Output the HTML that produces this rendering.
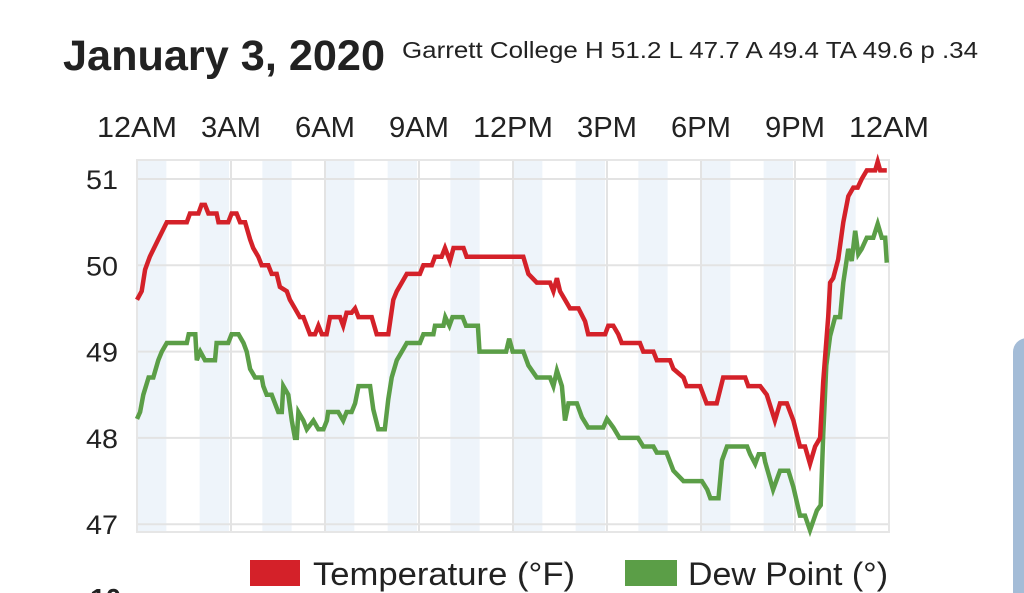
<!DOCTYPE html>
<html><head><meta charset="utf-8">
<style>
html,body{margin:0;padding:0;background:#fff;width:1024px;height:593px;overflow:hidden;}
svg{display:block;font-family:"Liberation Sans",sans-serif;overflow:hidden;}
</style></head>
<body>
<svg id="chart" width="1024" height="593" viewBox="0 0 1024 593">
  <defs><clipPath id="frameClip"><rect x="0" y="0" width="1024" height="593"/></clipPath></defs>
  <g clip-path="url(#frameClip)">
  <text x="63" y="70" font-size="43" font-weight="bold" fill="#222" textLength="322" lengthAdjust="spacingAndGlyphs">January 3, 2020</text>
  <text x="402" y="58" font-size="23" fill="#222" textLength="576" lengthAdjust="spacingAndGlyphs">Garrett College H 51.2 L 47.7 A 49.4  TA 49.6  p .34</text>
  <g id="bands"></g>
  <g id="grid"></g>
  <rect x="137" y="160" width="752" height="372" fill="none" stroke="#e6e6e6" stroke-width="2"/>
  <g id="xlabels"></g>
  <g id="ylabels"></g>
  <g id="series"></g>
  <g>
    <g>
      <rect x="250" y="560" width="50" height="26" fill="#d42129"/>
      <text x="313" y="585" font-size="32" fill="#222" textLength="262" lengthAdjust="spacingAndGlyphs">Temperature (°F)</text>
    </g>
    <g>
      <rect x="625" y="560" width="52" height="26" fill="#5b9e47"/>
      <text x="688" y="585" font-size="32" fill="#222" textLength="200" lengthAdjust="spacingAndGlyphs">Dew Point (°)</text>
    </g>
  </g>
  <text x="90" y="608" font-size="28" font-weight="bold" fill="#222">10</text>
  <rect x="1013" y="338" width="40" height="280" rx="14" fill="#a4bcd7"/>
  </g>
</svg>
<script>
const xTickLabels = ["12AM","3AM","6AM","9AM","12PM","3PM","6PM","9PM","12AM"];
const xTickHours = [0,3,6,9,12,15,18,21,24];
const yTicks = [47,48,49,50,51];
const tempHours = [0,0.15,0.26,0.41,0.68,0.95,1.59,1.69,1.96,2.06,2.17,2.28,2.54,2.6,2.91,3.02,3.18,3.29,3.45,3.61,3.71,3.87,3.98,4.19,4.3,4.46,4.56,4.78,4.88,5.04,5.2,5.31,5.52,5.68,5.79,5.9,6.05,6.16,6.48,6.58,6.69,6.85,6.96,7.07,7.49,7.65,8.02,8.18,8.29,8.45,8.61,9.03,9.14,9.41,9.51,9.72,9.83,9.99,10.1,10.42,10.52,12.33,12.49,12.76,13.18,13.29,13.4,13.5,13.66,13.82,14.09,14.3,14.4,14.94,15.04,15.2,15.36,15.47,16.05,16.16,16.48,16.59,17.01,17.12,17.44,17.54,17.97,18.18,18.5,18.71,19.41,19.51,19.89,20.1,20.36,20.52,20.74,20.95,21.16,21.32,21.48,21.64,21.8,21.9,22.06,22.12,22.22,22.38,22.54,22.7,22.86,23.0,23.13,23.29,23.56,23.64,23.72,23.93];
const tempValues = [49.6,49.7,49.95,50.1,50.3,50.5,50.5,50.6,50.6,50.7,50.7,50.6,50.6,50.5,50.5,50.6,50.6,50.5,50.5,50.3,50.2,50.1,50.0,50.0,49.9,49.9,49.75,49.7,49.6,49.5,49.4,49.4,49.2,49.2,49.3,49.2,49.2,49.4,49.4,49.3,49.45,49.45,49.5,49.4,49.4,49.2,49.2,49.6,49.7,49.8,49.9,49.9,50.0,50.0,50.1,50.1,50.2,50.05,50.2,50.2,50.1,50.1,49.9,49.8,49.8,49.7,49.85,49.7,49.6,49.5,49.5,49.35,49.2,49.2,49.3,49.3,49.2,49.1,49.1,49.0,49.0,48.9,48.9,48.8,48.7,48.6,48.6,48.4,48.4,48.7,48.7,48.6,48.6,48.5,48.2,48.4,48.4,48.2,47.9,47.9,47.7,47.9,48.0,48.65,49.4,49.8,49.85,50.07,50.5,50.8,50.9,50.9,51.0,51.1,51.1,51.2,51.1,51.1];
const dewHours = [0,0.1,0.2,0.37,0.52,0.68,0.79,0.95,1.59,1.65,1.86,1.91,2.02,2.17,2.49,2.54,2.91,3.02,3.24,3.4,3.5,3.61,3.77,3.98,4.03,4.14,4.3,4.51,4.62,4.67,4.83,4.94,5.04,5.1,5.15,5.31,5.42,5.63,5.79,5.95,6.06,6.1,6.42,6.58,6.69,6.85,6.96,7.07,7.44,7.54,7.7,7.91,8.02,8.13,8.29,8.45,8.61,9.03,9.14,9.46,9.51,9.78,9.84,9.97,10.07,10.39,10.5,10.88,10.93,11.78,11.88,11.99,12.33,12.49,12.76,13.18,13.29,13.4,13.56,13.66,13.77,14.04,14.2,14.4,14.88,15.0,15.2,15.4,15.99,16.16,16.48,16.59,16.9,17.12,17.44,18.03,18.2,18.3,18.56,18.67,18.83,19.47,19.57,19.73,19.84,20.0,20.05,20.3,20.52,20.79,20.95,21.16,21.32,21.48,21.7,21.82,21.9,22.0,22.12,22.28,22.44,22.54,22.7,22.81,22.92,23.02,23.13,23.29,23.5,23.64,23.77,23.88,23.93];
const dewValues = [48.22,48.3,48.5,48.7,48.7,48.9,49.0,49.1,49.1,49.2,49.2,48.9,49.0,48.9,48.9,49.1,49.1,49.2,49.2,49.1,49.0,48.8,48.7,48.7,48.6,48.5,48.5,48.3,48.3,48.6,48.5,48.2,48.0,48.0,48.3,48.2,48.1,48.2,48.1,48.1,48.2,48.3,48.3,48.2,48.3,48.3,48.4,48.6,48.6,48.33,48.1,48.1,48.45,48.7,48.9,49.0,49.1,49.1,49.2,49.2,49.3,49.3,49.4,49.3,49.4,49.4,49.3,49.3,49.0,49.0,49.15,49.0,49.0,48.84,48.7,48.7,48.6,48.78,48.6,48.2,48.4,48.4,48.24,48.12,48.12,48.22,48.12,48.0,48.0,47.9,47.9,47.83,47.83,47.62,47.5,47.5,47.4,47.3,47.3,47.74,47.9,47.9,47.81,47.7,47.81,47.81,47.72,47.4,47.62,47.62,47.43,47.1,47.1,46.93,47.16,47.22,48.03,48.84,49.18,49.4,49.4,49.8,50.19,50.05,50.4,50.13,50.19,50.32,50.32,50.48,50.32,50.32,50.03];

const NS = "http://www.w3.org/2000/svg";
const L = 137, R = 889, T = 160, B = 532;
const xScale = h => L + (h / 24) * (R - L);
const yScale = v => 179 + (51 - v) * 86.3;
function mk(tag, attrs, parent) {
  const e = document.createElementNS(NS, tag);
  for (const k in attrs) e.setAttribute(k, attrs[k]);
  parent.appendChild(e);
  return e;
}
const bands = document.getElementById('bands');
for (let h = 0; h < 24; h += 2) {
  const b = mk('rect', {x: xScale(h), y: T, width: xScale(h + 1) - xScale(h) - 2, height: B - T, fill: '#eef4fa'}, bands);
  
  
}
const grid = document.getElementById('grid');
xTickHours.forEach(h => {
  const g = mk('line', {x1: xScale(h), x2: xScale(h), y1: T, y2: B, stroke: '#e3e3e3', 'stroke-width': 2}, grid);
  
  
});
yTicks.forEach(v => {
  const g = mk('line', {x1: L, x2: R, y1: yScale(v), y2: yScale(v), stroke: '#e3e3e3', 'stroke-width': 2}, grid);
  
  
});
const xl = document.getElementById('xlabels');
xTickLabels.forEach((t, i) => {
  const w = t.length * 15 + (t.startsWith('12') ? 20 : 15);
  const e = mk('text', {x: xScale(xTickHours[i]), y: 137, 'font-size': 29, fill: '#222', 'text-anchor': 'middle', textLength: w, lengthAdjust: 'spacingAndGlyphs'}, xl);
  e.textContent = t;
  
  
});
const yl = document.getElementById('ylabels');
yTicks.forEach(v => {
  const e = mk('text', {x: 118, y: yScale(v) + 10, 'font-size': 27, fill: '#222', 'text-anchor': 'end', textLength: 32, lengthAdjust: 'spacingAndGlyphs'}, yl);
  e.textContent = v;
  
  
});
const series = document.getElementById('series');
function line(hs, vs, color, name) {
  const d = hs.map((h, i) => (i ? 'L' : 'M') + xScale(h).toFixed(1) + ',' + yScale(vs[i]).toFixed(1)).join(' ');
  const p = mk('path', {d: d, fill: 'none', stroke: color, 'stroke-width': 4.5, 'stroke-linejoin': 'miter'}, series);
  
  
}
line(dewHours, dewValues, '#5b9e47', 'dew-point-line');
line(tempHours, tempValues, '#d42129', 'temperature-line');
</script>
</body></html>
